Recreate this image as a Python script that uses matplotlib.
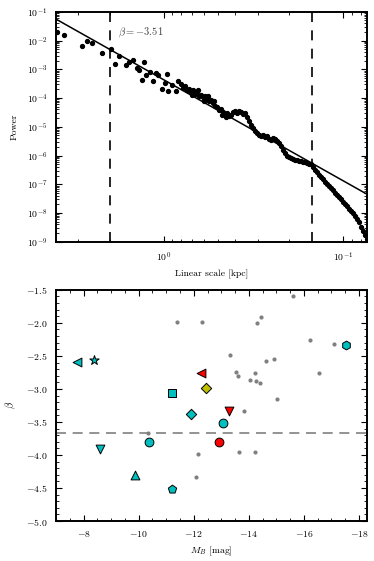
import numpy as np
import matplotlib
matplotlib.use("Agg")
import matplotlib.pyplot as plt
from matplotlib.ticker import LogLocator, MultipleLocator, NullFormatter

plt.rcParams["font.family"] = "serif"
plt.rcParams["font.serif"] = ["cmr10", "DejaVu Serif"]
plt.rcParams["mathtext.fontset"] = "cm"
plt.rcParams["axes.formatter.use_mathtext"] = True
plt.rcParams["font.size"] = 7

# -----------------------------
# Top panel: power spectrum (log10 values)
# -----------------------------
log_scale = [
    0.599, 0.559, 0.456, 0.428, 0.401, 0.345, 0.296, 0.274, 0.253, 0.211,
    0.196, 0.172, 0.149, 0.138, 0.125, 0.110, 0.101, 0.078, 0.063, 0.045,
    0.032, 0.013, -0.006, -0.015, -0.024, -0.043, -0.067, -0.080,
    -0.156, -0.190, -0.223, -0.246, -0.280, -0.324, -0.346,
    -0.0950, -0.1061, -0.1173, -0.1285, -0.1397, -0.1508, -0.1620, -0.1732,
    -0.1844, -0.1955, -0.2067, -0.2179, -0.2291, -0.2402, -0.2514, -0.2626,
    -0.2737, -0.2849, -0.2961, -0.3073, -0.3184, -0.3296, -0.3408, -0.3520,
    -0.3631, -0.3743, -0.3855, -0.3966, -0.4078, -0.4190, -0.4302, -0.4413,
    -0.4525, -0.4637, -0.4749, -0.4860, -0.4972, -0.5084, -0.5196, -0.5307,
    -0.5419, -0.5531, -0.5642, -0.5754, -0.5866, -0.5978, -0.6089, -0.6201,
    -0.6313, -0.6425, -0.6536, -0.6648, -0.6760, -0.6872, -0.6983, -0.7095,
    -0.7207, -0.7318, -0.7430, -0.7542, -0.7654, -0.7765, -0.7877, -0.7989,
    -0.8101, -0.8212, -0.8324, -0.8436, -0.8547, -0.8659, -0.8771, -0.8883,
    -0.8994, -0.9106, -0.9218, -0.9330, -0.9441, -0.9553, -0.9665, -0.9777,
    -0.9888, -1.0000, -1.0112, -1.0223, -1.0335, -1.0447, -1.0559, -1.0670,
    -1.0782, -1.0894, -1.1006, -1.1117, -1.1229, -1.1313,
]
log_power = [
    -1.69, -1.80, -2.18, -2.00, -2.09, -2.44, -2.30, -2.81, -2.53, -2.84,
    -2.73, -2.69, -2.96, -3.04, -3.37, -2.76, -3.19, -3.08, -3.42, -3.13,
    -3.19, -3.69, -3.46, -3.17, -3.77, -3.54, -3.77, -3.42,
    -3.89, -3.71, -4.12, -3.92, -4.10, -4.59, -4.66,
    -3.504, -3.643, -3.574, -3.713, -3.678, -3.783, -3.713, -3.852,
    -3.783, -3.922, -3.887, -3.957, -3.922, -4.026, -4.096, -4.061,
    -4.165, -4.270, -4.304, -4.409, -4.374, -4.478, -4.548, -4.513,
    -4.617, -4.583, -4.478, -4.444, -4.513, -4.444, -4.478, -4.548,
    -4.513, -4.652, -4.791, -4.930, -5.035, -5.139, -5.209, -5.278,
    -5.313, -5.278, -5.348, -5.313, -5.417, -5.452, -5.383, -5.417,
    -5.487, -5.557, -5.661, -5.800, -5.904, -6.009, -6.043, -6.078,
    -6.113, -6.148, -6.148, -6.183, -6.183, -6.217, -6.217, -6.252,
    -6.287, -6.287, -6.391, -6.496, -6.565, -6.670, -6.739, -6.809,
    -6.913, -6.983, -7.052, -7.122, -7.191, -7.296, -7.365, -7.435,
    -7.504, -7.609, -7.678, -7.748, -7.852, -7.922, -7.991, -8.096,
    -8.200, -8.305, -8.478, -8.617, -8.757, -8.896,
]

beta_fit = -3.51
fit_amp = 4.26e-4          # power of the fitted line at 1 kpc
fit_range = [2.0, 0.15]    # kpc, dashed lines
scale_lim = [4.0, 0.0735]

# -----------------------------
# Bottom panel: beta vs absolute magnitude
# -----------------------------
mb_gray = [-11.40, -12.29, -14.28, -14.45, -15.60, -16.22, -17.08, -13.31,
           -14.62, -14.92, -13.55, -13.60, -14.23, -14.04, -14.25, -14.39,
           -16.53, -15.02, -13.83, -10.32, -12.16, -13.63, -14.23, -12.07]
beta_gray = [-1.98, -1.98, -2.00, -1.91, -1.60, -2.26, -2.32, -2.49,
             -2.57, -2.55, -2.75, -2.81, -2.76, -2.86, -2.88, -2.91,
             -2.76, -3.15, -3.33, -3.67, -3.98, -3.95, -3.95, -4.34]

mb_sample = [-7.76, -8.38, -12.27, -12.45, -11.20, -11.90, -13.28, -17.52,
             -13.07, -12.91, -10.39, -8.60, -9.86, -11.20]
beta_sample = [-2.59, -2.56, -2.76, -2.98, -3.06, -3.38, -3.34, -2.34,
               -3.52, -3.81, -3.81, -3.91, -4.31, -4.51]
sample_markers = ["<", "*", "<", "D", "s", "D", "v", "h",
                  "o", "o", "o", "v", "^", "p"]
sample_colors = ["c", "c", "r", "y", "c", "c", "r", "c",
                 "c", "r", "c", "c", "c", "c"]

beta_median = -3.67

fig = plt.figure(figsize=(3.74, 5.61), dpi=100)
ax1 = fig.add_axes([0.150, 0.569, 0.832, 0.410])
ax2 = fig.add_axes([0.150, 0.0713, 0.832, 0.412])

for ax in (ax1, ax2):
    for sp in ax.spines.values():
        sp.set_linewidth(1.4)
    ax.tick_params(which="both", direction="in", top=True, right=True,
                   labelsize=7, pad=6)
    ax.tick_params(which="major", length=4.5, width=0.8)
    ax.tick_params(which="minor", length=2.2, width=0.6)

# top panel
scale = 10 ** np.array(log_scale)
power = 10 ** np.array(log_power)
ax1.plot(scale, power, "o", color="k", ms=2.8, mec="k", zorder=3)

xfit = np.array(scale_lim)
ax1.plot(xfit, fit_amp * xfit ** (-beta_fit), "-", color="k", lw=1.1)
for xv in fit_range:
    ax1.axvline(xv, color="k", lw=1.2, ls=(0, (6, 5)))
ax1.text(1.81, 0.0186, r"$\beta = -3.51$", fontsize=7.5, color="0.25",
         ha="left", va="center")

ax1.set_xscale("log")
ax1.set_yscale("log")
ax1.set_xlim(scale_lim)
ax1.set_ylim(1e-9, 1e-1)
ax1.yaxis.set_major_locator(LogLocator(base=10, numticks=20))
ax1.yaxis.set_minor_locator(LogLocator(base=10, subs=np.arange(2, 10), numticks=20))
ax1.yaxis.set_minor_formatter(NullFormatter())
ax1.xaxis.set_minor_formatter(NullFormatter())
ax1.set_xlabel("Linear scale [kpc]", fontsize=7, labelpad=4)
ax1.set_ylabel("Power", fontsize=7, labelpad=6)

# bottom panel
ax2.scatter(mb_gray, beta_gray, s=9, color="0.5", lw=0, zorder=2)
ax2.axhline(beta_median, color="0.5", lw=1.2, ls=(0, (6, 4)), zorder=1)
for m, b, mk, c in zip(mb_sample, beta_sample, sample_markers, sample_colors):
    size = 40
    if mk == "D":
        size = 28
    if mk == "*":
        size = 50
    ax2.scatter(m, b, s=size, marker=mk, color=c, edgecolor="k",
                linewidth=0.7, zorder=3)

ax2.set_xlim(-7.0, -18.3)
ax2.set_ylim(-5.0, -1.5)
ax2.xaxis.set_major_locator(MultipleLocator(2))
ax2.xaxis.set_minor_locator(MultipleLocator(0.5))
ax2.yaxis.set_major_locator(MultipleLocator(0.5))
ax2.yaxis.set_minor_locator(MultipleLocator(0.1))
ax2.set_xlabel(r"$M_B$ [mag]", fontsize=7, labelpad=4)
ax2.set_ylabel(r"$\beta$", fontsize=7.5, labelpad=6)

fig.savefig("out.png", dpi=100)
